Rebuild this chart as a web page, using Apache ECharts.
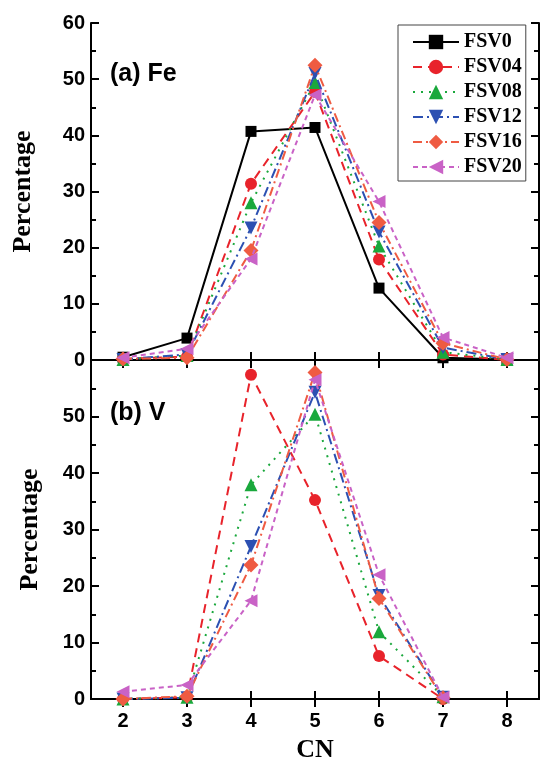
<!DOCTYPE html>
<html>
<head>
<meta charset="utf-8">
<script src="https://cdn.jsdelivr.net/npm/echarts@6/dist/echarts.min.js"></script>
<style>
  html, body { margin: 0; padding: 0; background: #fff; }
  #chart { width: 542px; height: 758px; }
</style>
</head>
<body>
<div id="chart"></div>
<script>
// Coordination number categories
const cnLabels = ['2', '3', '4', '5', '6', '7', '8'];
const seriesNames = ['FSV0', 'FSV04', 'FSV08', 'FSV12', 'FSV16', 'FSV20'];
const yTicks = [0, 10, 20, 30, 40, 50, 60];

// (a) Fe: percentage per coordination number
const feFSV0  = [0.5, 3.9, 40.7, 41.4, 12.8, 0.4, 0.1];
const feFSV04 = [0.2, 0.6, 31.4, 47.7, 17.9, 1.0, 0.0];
const feFSV08 = [0.1, 0.8, 28.0, 49.4, 20.3, 1.4, 0.1];
const feFSV12 = [0.1, 1.0, 23.5, 51.0, 22.8, 2.2, 0.1];
const feFSV16 = [0.2, 0.4, 19.5, 52.5, 24.5, 3.0, 0.1];
const feFSV20 = [0.4, 2.0, 18.0, 47.2, 28.2, 4.0, 0.4];

// (b) V: percentage per coordination number (no FSV0 curve)
const vFSV04 = [0.0, 0.3, 57.4, 35.2, 7.6, 0.0, null];
const vFSV08 = [0.0, 0.3, 37.9, 50.4, 11.9, 0.4, null];
const vFSV12 = [0.0, 0.2, 27.0, 54.3, 18.3, 0.3, null];
const vFSV16 = [0.0, 0.5, 23.7, 57.8, 17.8, 0.2, null];
const vFSV20 = [1.3, 2.5, 17.4, 56.5, 22.0, 0.3, null];

const feData = [feFSV0, feFSV04, feFSV08, feFSV12, feFSV16, feFSV20];
const vData = [null, vFSV04, vFSV08, vFSV12, vFSV16, vFSV20];

// Per-series look
const styles = [
  { color: '#000000', dash: 'solid',        symbol: 'rect',     size: 11, rotate: 0 },
  { color: '#e8232b', dash: [9, 6],         symbol: 'circle',   size: 12, rotate: 0 },
  { color: '#1aa83c', dash: [2, 6],         symbol: 'triangle', size: 13, rotate: 0 },
  { color: '#2c50b2', dash: [10, 4, 2, 4],  symbol: 'triangle', size: 13, rotate: 180 },
  { color: '#ef5b42', dash: [9, 4, 2, 4],   symbol: 'diamond',  size: 15, rotate: 0 },
  { color: '#c962c6', dash: [5, 4],         symbol: 'triangle', size: 13, rotate: 90 }
];

const sansBold = { fontFamily: 'Liberation Sans, Arial, sans-serif', fontWeight: 'bold', color: '#000' };
const serifBold = { fontFamily: 'Liberation Serif, Times New Roman, serif', fontWeight: 'bold', color: '#000' };

const frameLine = { show: true, lineStyle: { color: '#000', width: 2 } };

function xAxisFor(gridIndex, position, showLabels) {
  return {
    type: 'category',
    gridIndex: gridIndex,
    position: position,
    data: cnLabels,
    boundaryGap: true,
    axisLine: frameLine,
    axisTick: { show: true, alignWithLabel: true, inside: true, length: 8, lineStyle: { color: '#000', width: 2 } },
    axisLabel: showLabels ? Object.assign({ show: true, fontSize: 20, margin: 12 }, sansBold) : { show: false },
    splitLine: { show: false }
  };
}

function yAxisFor(gridIndex, position, showLabels, hideMax, nameGap) {
  const ax = {
    type: 'value',
    gridIndex: gridIndex,
    position: position,
    min: yTicks[0],
    max: yTicks[yTicks.length - 1],
    interval: yTicks[1] - yTicks[0],
    axisLine: frameLine,
    axisTick: { show: true, inside: true, length: 8, lineStyle: { color: '#000', width: 2 } },
    minorTick: { show: true, splitNumber: 2, length: 5, lineStyle: { color: '#000', width: 2 } },
    axisLabel: showLabels ? Object.assign({ show: true, fontSize: 20, margin: 6, showMaxLabel: !hideMax }, sansBold) : { show: false },
    splitLine: { show: false },
    minorSplitLine: { show: false }
  };
  if (showLabels) {
    ax.name = 'Percentage';
    ax.nameLocation = 'middle';
    ax.nameGap = nameGap;
    ax.nameTextStyle = Object.assign({ fontSize: 26 }, serifBold);
  }
  return ax;
}

const series = [];
seriesNames.forEach(function (name, i) {
  const st = styles[i];
  const base = {
    name: name,
    type: 'line',
    symbol: st.symbol,
    symbolSize: st.size,
    symbolRotate: st.rotate,
    itemStyle: { color: st.color },
    lineStyle: { color: st.color, width: 2, type: st.dash },
    emphasis: { disabled: true },
    z: 2 + i
  };
  series.push(Object.assign({}, base, { xAxisIndex: 0, yAxisIndex: 0, data: feData[i] }));
  if (vData[i]) {
    series.push(Object.assign({}, base, { xAxisIndex: 2, yAxisIndex: 2, data: vData[i] }));
  }
});

const chart = echarts.init(document.getElementById('chart'), null, { renderer: 'canvas' });
chart.setOption({
  animation: false,
  backgroundColor: '#ffffff',
  grid: [
    { left: 91, right: 3, top: 23, height: 337, outerBoundsMode: 'none' },
    { left: 91, right: 3, top: 360, height: 339, outerBoundsMode: 'none' }
  ],
  xAxis: [
    xAxisFor(0, 'bottom', false),
    xAxisFor(0, 'top', false),
    Object.assign(xAxisFor(1, 'bottom', true), {
      name: 'CN', nameLocation: 'middle', nameGap: 38,
      nameTextStyle: Object.assign({ fontSize: 26 }, serifBold)
    }),
    xAxisFor(1, 'top', false)
  ],
  yAxis: [
    yAxisFor(0, 'left', true, false, 55),
    yAxisFor(0, 'right', false),
    yAxisFor(1, 'left', true, true, 48),
    yAxisFor(1, 'right', false)
  ],
  legend: {
    data: seriesNames,
    orient: 'vertical',
    left: 398,
    top: 25,
    padding: [7, 4, 4, 14],
    itemWidth: 46,
    itemHeight: 18,
    itemGap: 5,
    borderColor: '#444',
    borderWidth: 1,
    selectedMode: false,
    textStyle: Object.assign({ fontSize: 20, lineHeight: 20 }, serifBold)
  },
  graphic: [
    { type: 'text', left: 110, top: 62, style: { text: '(a) Fe', fontSize: 25, fill: '#000', fontFamily: sansBold.fontFamily, fontWeight: 'bold' } },
    { type: 'text', left: 110, top: 401, style: { text: '(b) V', fontSize: 25, fill: '#000', fontFamily: sansBold.fontFamily, fontWeight: 'bold' } }
  ],
  series: series
});
</script>
</body>
</html>
